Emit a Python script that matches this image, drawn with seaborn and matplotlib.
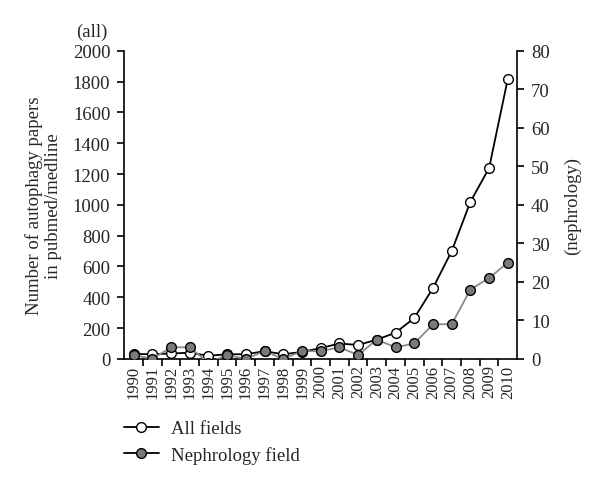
import matplotlib
matplotlib.use("Agg")
import matplotlib.pyplot as plt
import seaborn as sns
import pandas as pd
import numpy as np
from matplotlib.lines import Line2D
from matplotlib.ticker import FixedLocator, NullFormatter

years = list(range(1990, 2011))
all_fields = [32, 30, 35, 40, 20, 30, 30, 50, 30, 45, 70, 100, 90, 125, 170, 265, 460, 700, 1020, 1240, 1820]
nephrology = [1, 0, 3, 3, -1, 1, 0, 2, 0, 2, 2, 3, 1, 5, 3, 4, 9, 9, 18, 21, 25]
left_ticks = list(range(0, 2001, 200))
right_ticks = list(range(0, 81, 10))

sns.set_theme(style="ticks")
plt.rcParams['font.family'] = ['Liberation Serif', 'DejaVu Serif']

df = pd.DataFrame({"year": years, "all": all_fields, "neph": nephrology})

fig = plt.figure(figsize=(6, 4.85), dpi=100)
ax = fig.add_axes([0.207, 0.258, 0.655, 0.635])
ax2 = ax.twinx()

sns.lineplot(data=df, x="year", y="all", ax=ax, color="black", lw=1.3,
             marker="o", markersize=7, markerfacecolor="white",
             markeredgecolor="black", markeredgewidth=1.0, zorder=3)
sns.lineplot(data=df, x="year", y="neph", ax=ax2, color="#8a8a8a", lw=1.3,
             marker="o", markersize=7, markerfacecolor="#7a7a7a",
             markeredgecolor="black", markeredgewidth=1.0, zorder=3)

ax.set_xlim(1989.5, 2010.5)
ax.set_ylim(0, 2000)
ax2.set_ylim(0, 80)
ax.set_yticks(left_ticks)
ax2.set_yticks(right_ticks)
ax.set_xticks(years)
ax.set_xticklabels([str(y) for y in years], rotation=90, fontsize=12)
ax.tick_params(axis="x", which="major", length=0, pad=4)
ax.xaxis.set_minor_locator(FixedLocator([y + 0.5 for y in years[:-1]]))
ax.xaxis.set_minor_formatter(NullFormatter())
ax.tick_params(axis="x", which="minor", length=5, width=1.2, direction="out", color="black")
ax.tick_params(axis="y", length=5, width=1.2, labelsize=13.5, color="black", direction="out", pad=5)
ax2.tick_params(axis="y", length=5, width=1.2, labelsize=13.5, color="black", direction="out", pad=5)

for a in (ax, ax2):
    a.set_xlabel("")
    a.set_ylabel("")
    for s in a.spines.values():
        s.set_linewidth(1.2)
        s.set_color("black")
    a.spines["top"].set_visible(False)
ax.spines["right"].set_visible(False)
ax2.spines["left"].set_visible(False)
ax2.spines["bottom"].set_visible(False)
ax2.spines["right"].set_visible(True)

ax.set_ylabel("Number of autophagy papers\nin pubmed/medline", fontsize=13.5, labelpad=8, linespacing=1.1)
ax2.set_ylabel("(nephrology)", fontsize=13.5, labelpad=10)
fig.text(0.153, 0.934, "(all)", fontsize=13.5, ha="center", va="center")

handles = [
    Line2D([], [], color="black", lw=1.3, marker="o", markersize=7,
           markerfacecolor="white", markeredgecolor="black"),
    Line2D([], [], color="black", lw=1.3, marker="o", markersize=7,
           markerfacecolor="#7a7a7a", markeredgecolor="black"),
]
fig.legend(handles, ["All fields", "Nephrology field"], loc="center left",
           bbox_to_anchor=(0.178, 0.087), frameon=False, fontsize=13.5,
           handlelength=1.9, handletextpad=0.6, labelspacing=0.45)

fig.savefig("out.png", dpi=100)
